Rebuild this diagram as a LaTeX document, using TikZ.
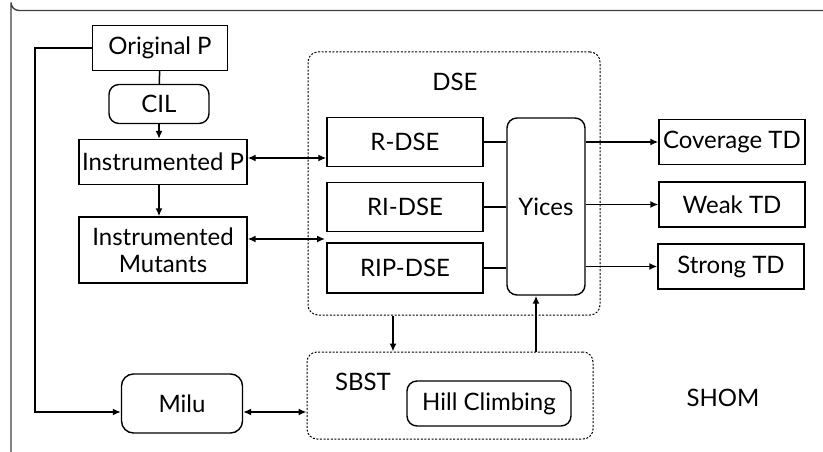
\documentclass[tikz,border=0pt]{standalone}
\usepackage{fontspec}
\setmainfont{Lato}
\usetikzlibrary{arrows.meta}
\tikzset{
  box/.style={draw, line width=1.4pt, inner sep=0pt, font=\fontsize{24}{27}\selectfont, align=center},
  rbox/.style={box, rounded corners=10pt},
  group/.style={draw, line width=1pt, dash pattern=on 2pt off 1.6pt, rounded corners=10pt, inner sep=0pt},
  lbl/.style={font=\fontsize{24}{27}\selectfont},
  link/.style={line width=1.5pt},
  >={Latex[length=8pt,width=7pt]}
}
\begin{document}
\begin{tikzpicture}[x=1pt, y=-1pt]
\useasboundingbox (0,0) rectangle (823,452);
% outer frame
\draw[line width=1.4pt, black!75] (823,10.5) -- (19,10.5) arc (90:180:8) -- (11,452);
% groups
\node[group, minimum width=292pt, minimum height=263pt] (dse) at (454,183.5) {};
\node[group, minimum width=286pt, minimum height=87pt] (sbst) at (450,395.5) {};
\node[lbl] (dsel) at (455,82) {DSE};
\node[lbl] (sbstl) at (363,382) {SBST};
\node[lbl] (shom) at (723,398) {SHOM};
% left column
\node[box, minimum width=135pt, minimum height=45pt] (origp) at (160,48) {Original P};
\node[rbox, minimum width=100pt, minimum height=39pt] (cil) at (159,104) {CIL};
\node[box, minimum width=168pt, minimum height=45pt] (instp) at (163,162) {Instrumented P};
\node[box, minimum width=168pt, minimum height=66pt] (instm) at (163,250) {Instrumented\\Mutants};
\node[rbox, minimum width=121pt, minimum height=59pt, rounded corners=12pt] (milu) at (182,403.5) {Milu};
% DSE
\node[box, minimum width=156pt, minimum height=49pt] (rdse) at (405,142) {R-DSE};
\node[box, minimum width=156pt, minimum height=49pt] (ridse) at (405,207) {RI-DSE};
\node[box, minimum width=156pt, minimum height=50pt] (ripdse) at (405,268) {RIP-DSE};
\node[rbox, minimum width=78pt, minimum height=177pt] (yices) at (546,206.5) {Yices};
% SBST
\node[rbox, minimum width=164pt, minimum height=45pt] (hill) at (489,403.5) {Hill Climbing};
% outputs
\node[box, minimum width=146pt, minimum height=45pt] (cov) at (732,142) {Coverage TD};
\node[box, minimum width=146pt, minimum height=45pt] (weak) at (732,204.5) {Weak TD};
\node[box, minimum width=146pt, minimum height=45pt] (strong) at (731,266.5) {Strong TD};
% connectors
\coordinate (mutend) at (325,239);
\coordinate (milurow) at (0,412);
\draw[link] (origp) -- (cil);
\draw[link,->] (cil) -- (cil |- instp.north);
\draw[link,->] (instp.south -| cil) -- (instm.north -| cil);
\draw[link,->] (origp.west) -- ++(-57,0) |- (milu.west |- milurow);
\draw[link,<->] (instp.east |- 0,158) -- (rdse.west |- 0,158);
\draw[link,<->] (instm.east |- mutend) -- (mutend);
\draw[link] (rdse.east) -- (yices.west |- rdse.east);
\draw[link] (ridse.east) -- (yices.west |- ridse.east);
\draw[link] (ripdse.east) -- (yices.west |- ripdse.east);
\draw[link,->] (yices.east |- cov) -- (cov.west);
\draw[link,->] (yices.east |- weak) -- (weak.west);
\draw[link,->] (yices.east |- strong) -- (strong.west);
\draw[link,->] (dse.south -| 393,0) -- (sbst.north -| 393,0);
\draw[link,->] (sbst.north -| 536,0) -- (yices.south -| 536,0);
\draw[link,<->] (milu.east |- milurow) -- (sbst.west |- milurow);
\end{tikzpicture}
\end{document}
